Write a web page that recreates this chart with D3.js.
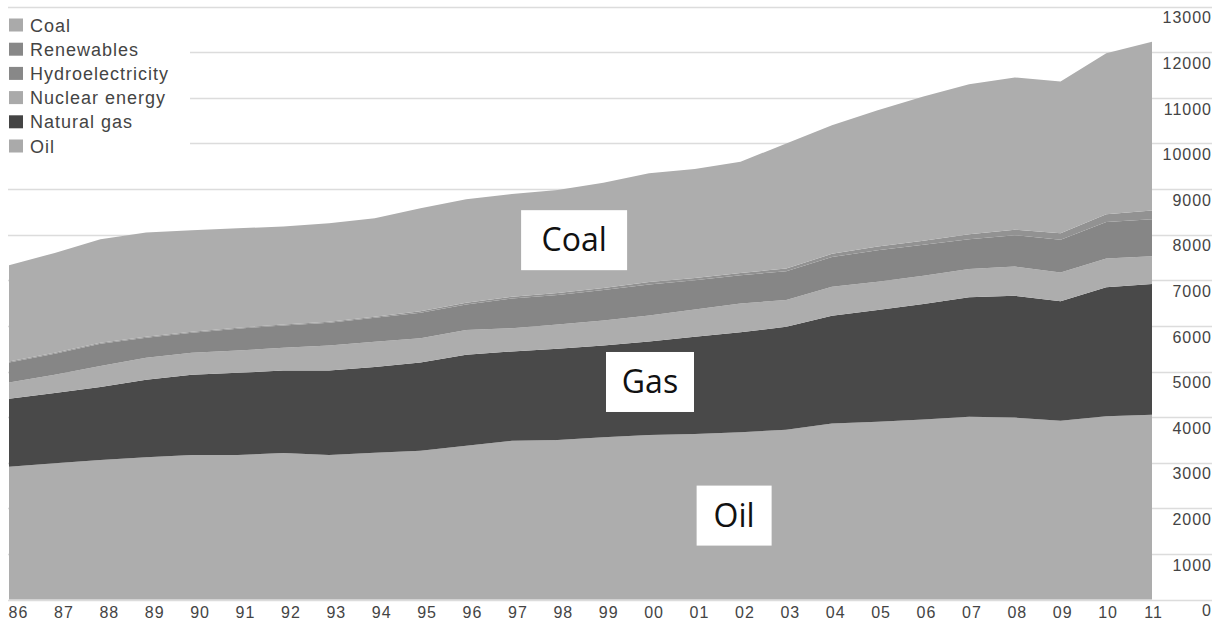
<!DOCTYPE html>
<html>
<head>
<meta charset="utf-8">
<script src="https://cdn.jsdelivr.net/npm/d3@7"></script>
<style>
  html, body { margin: 0; padding: 0; background: #fff; }
  svg { display: block; }
  .tick text { font-family: 'Liberation Sans', Arial, sans-serif; font-size: 16px; fill: #444; letter-spacing: 1px; }
  .legend text { font-family: 'Liberation Sans', Arial, sans-serif; font-size: 18px; fill: #444; letter-spacing: 1px; }
  .label text { font-family: 'Open Sans', 'Noto Sans', sans-serif; font-size: 32px; fill: #111; }
</style>
</head>
<body>
<div id="chart"></div>
<script>
const years = ['86', '87', '88', '89', '90', '91', '92', '93', '94', '95', '96', '97', '98', '99',
  '00', '01', '02', '03', '04', '05', '06', '07', '08', '09', '10', '11']
// million tonnes oil equivalent
const oil = [2910, 2990, 3060, 3120, 3170, 3170, 3210, 3170, 3220, 3260, 3370, 3480, 3500, 3560,
  3610, 3630, 3670, 3720, 3860, 3900, 3950, 4010, 3990, 3920, 4020, 4050]
const gas = [1490, 1540, 1600, 1700, 1760, 1800, 1810, 1850, 1880, 1940, 2000, 1960, 2000, 2010,
  2050, 2130, 2190, 2260, 2360, 2450, 2530, 2620, 2670, 2620, 2830, 2870]
const nuclear = [360, 400, 460, 480, 480, 490, 500, 550, 550, 530, 540, 510, 530, 550,
  570, 600, 630, 590, 640, 620, 620, 620, 640, 630, 630, 610]
const hydro = [440, 460, 490, 440, 440, 480, 490, 500, 530, 560, 560, 650, 650, 670,
  680, 640, 620, 630, 650, 690, 680, 650, 690, 720, 800, 810]
const renewables = [20, 20, 20, 20, 20, 20, 20, 20, 20, 30, 40, 40, 40, 40,
  50, 50, 50, 60, 70, 80, 90, 110, 120, 140, 170, 190]
const coal = [2110, 2190, 2270, 2290, 2230, 2180, 2150, 2160, 2160, 2260, 2270, 2250, 2260, 2310,
  2390, 2390, 2440, 2740, 2820, 2990, 3160, 3290, 3340, 3330, 3530, 3700]
const yTicks = [0, 1000, 2000, 3000, 4000, 5000, 6000, 7000, 8000, 9000, 10000, 11000, 12000, 13000]
const legendItems = ['Coal', 'Renewables', 'Hydroelectricity', 'Nuclear energy', 'Natural gas', 'Oil']
// callout boxes: position given as year index (fractional) and value
const callouts = [
  { text: 'Coal', at: 12.36, value: 7880, w: 106 },
  { text: 'Gas', at: 14.02, value: 4770, w: 88 },
  { text: 'Oil', at: 15.86, value: 1840, w: 75 }
]

const keys = ['oil', 'gas', 'nuclear', 'hydro', 'renewables', 'coal']
const fills = { oil: '#adadad', gas: '#494949', nuclear: '#adadad', hydro: '#868686', renewables: '#929292', coal: '#adadad' }
const legendFills = { 'Coal': '#aaaaaa', 'Renewables': '#888888', 'Hydroelectricity': '#888888', 'Nuclear energy': '#aaaaaa', 'Natural gas': '#444444', 'Oil': '#aaaaaa' }

const table = years.map((y, i) => ({
  year: y, oil: oil[i], gas: gas[i], nuclear: nuclear[i], hydro: hydro[i], renewables: renewables[i], coal: coal[i]
}))
const stacked = d3.stack().keys(keys)(table)

const width = 1220
const height = 626
const svg = d3.select('#chart').append('svg')
  .attr('width', width)
  .attr('height', height)

const xScale = d3.scalePoint().domain(years).range([9, 1152])
const xIndex = d3.scaleLinear().domain([0, years.length - 1]).range([9, 1152])
const xLabel = d3.scalePoint().domain(years).range([18, 1153])
const yScale = d3.scaleLinear().domain([0, 13000]).range([599.5, 6.7])

// gridlines
svg.append('g')
  .selectAll('line')
  .data(yTicks)
  .join('line')
  .attr('x1', 8)
  .attr('x2', 1212)
  .attr('y1', d => Math.round(yScale(d)) + 0.5)
  .attr('y2', d => Math.round(yScale(d)) + 0.5)
  .attr('stroke', '#dcdcdc')
  .attr('stroke-width', 1.5)

const area = d3.area()
  .x(d => xScale(d.data.year))
  .y0(d => yScale(d[0]))
  .y1(d => yScale(d[1]))

svg.append('g')
  .selectAll('path')
  .data(stacked)
  .join('path')
  .attr('d', area)
  .attr('fill', d => fills[d.key])

// right axis labels
const axisY = d3.axisLeft(yScale).tickValues(yTicks).tickSize(0).tickPadding(0).tickFormat(d3.format('d'))
svg.append('g')
  .attr('transform', 'translate(1212, 11)')
  .call(axisY)
  .call(g => g.select('.domain').remove())

// bottom axis labels
const axisX = d3.axisBottom(xLabel).tickSize(0).tickPadding(7)
svg.append('g')
  .attr('transform', `translate(0, ${yScale(0)})`)
  .call(axisX)
  .call(g => g.select('.domain').remove())

// legend
const legend = svg.append('g').attr('class', 'legend')
legend.append('rect')
  .attr('x', 0).attr('y', 12).attr('width', 190).attr('height', 150)
  .attr('fill', '#fff')
const legendRow = legend.selectAll('g')
  .data(legendItems)
  .join('g')
  .attr('transform', (d, i) => `translate(9, ${25 + i * 24.2})`)
legendRow.append('rect')
  .attr('x', 0).attr('y', -6.5).attr('width', 14).attr('height', 13)
  .attr('fill', d => legendFills[d])
legendRow.append('text')
  .attr('x', 21)
  .attr('y', 6.5)
  .text(d => d)

// callout boxes
const label = svg.append('g').attr('class', 'label')
  .selectAll('g')
  .data(callouts)
  .join('g')
  .attr('transform', d => `translate(${xIndex(d.at)}, ${yScale(d.value)})`)
label.append('rect')
  .attr('x', d => -d.w / 2)
  .attr('y', -30)
  .attr('width', d => d.w)
  .attr('height', 60)
  .attr('fill', '#fff')
label.append('text')
  .attr('text-anchor', 'middle')
  .attr('dy', '0.35em')
  .text(d => d.text)
</script>
</body>
</html>
